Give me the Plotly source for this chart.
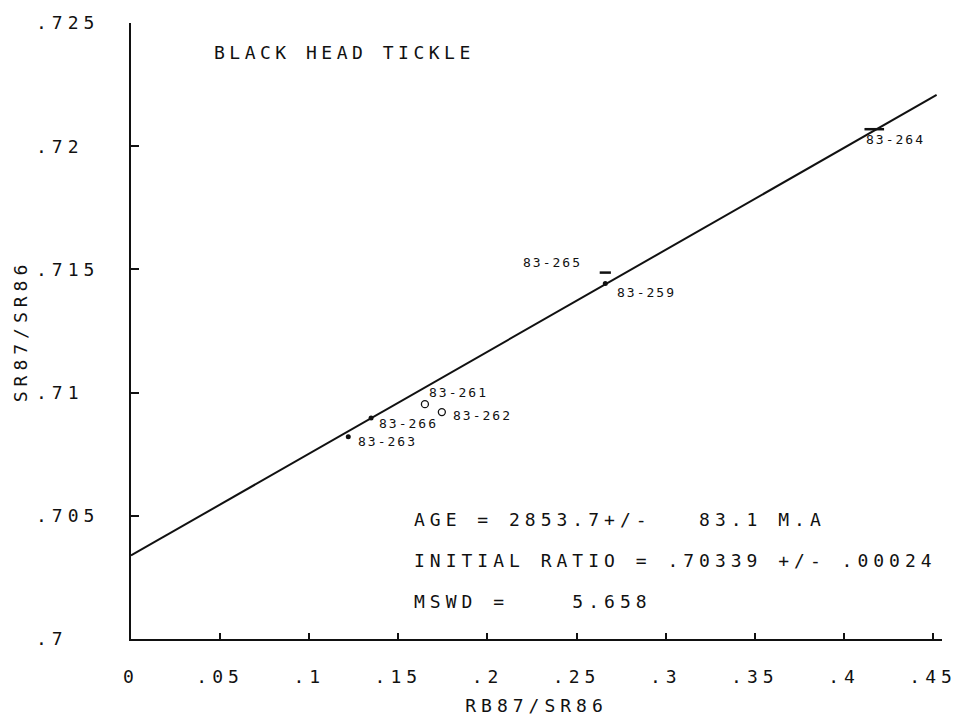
import math
import plotly.graph_objects as go

# ---- data ----
sample_ids = ["83-263", "83-266", "83-261", "83-262", "83-265", "83-259", "83-264"]
rb_sr = [0.1219, 0.1347, 0.1649, 0.1744, 0.2661, 0.2661, 0.4170]
sr_sr = [0.70821, 0.70897, 0.70953, 0.70921, 0.71487, 0.71443, 0.72069]
marker_kind = ["dot", "dot", "open", "open", "dash", "dot", "longdash"]

label_x = [0.1263, 0.1381, 0.1660, 0.1794, 0.2186, 0.2717, 0.4114]
label_y = [0.70801, 0.70873, 0.71001, 0.70909, 0.71527, 0.71407, 0.72026]

age_ma = 2853.7
decay_const = 1.42e-11
initial_ratio = 0.70339
line_x = [0.0, 0.452]

x_ticks = [0, 0.05, 0.1, 0.15, 0.2, 0.25, 0.3, 0.35, 0.4, 0.45]
x_tick_labels = ["0", ".05", ".1", ".15", ".2", ".25", ".3", ".35", ".4", ".45"]
y_ticks = [0.7, 0.705, 0.71, 0.715, 0.72, 0.725]
y_tick_labels = [".7", ".705", ".71", ".715", ".72", ".725"]

title_text = "BLACK HEAD TICKLE"
stat_lines = [
    "AGE = 2853.7+/-   83.1 M.A",
    "INITIAL RATIO = .70339 +/- .00024",
    "MSWD =    5.658",
]
x_title = "RB87/SR86"
y_title = "SR87/SR86"

# ---- derived ----
slope = math.exp(decay_const * age_ma * 1e6) - 1
line_y = [initial_ratio + slope * x for x in line_x]

FONT = "DejaVu Sans Mono"
INK = "#111111"


def spaced(s, ls):
    s = s.replace(" ", "\u00a0")
    return f'<span style="letter-spacing:{ls}px">{s}</span>'


fig = go.Figure()

fig.add_trace(go.Scatter(x=line_x, y=line_y, mode="lines",
                         line=dict(color=INK, width=2), showlegend=False,
                         hoverinfo="skip"))

style_map = {
    "dot": dict(symbol="circle", size=5, color=INK, line=dict(width=0)),
    "open": dict(symbol="circle-open", size=7, color=INK, line=dict(width=1.3)),
    "dash": dict(symbol="line-ew", size=8, color=INK, line=dict(width=2.5, color=INK)),
    "longdash": dict(symbol="line-ew", size=14, color=INK, line=dict(width=2.5, color=INK)),
}
for kind in ["dot", "open", "dash", "longdash"]:
    xs = [x for x, k in zip(rb_sr, marker_kind) if k == kind]
    ys = [y for y, k in zip(sr_sr, marker_kind) if k == kind]
    fig.add_trace(go.Scatter(x=xs, y=ys, mode="markers", marker=style_map[kind],
                             showlegend=False))

annotations = []
for sid, lx, ly in zip(sample_ids, label_x, label_y):
    annotations.append(dict(x=lx, y=ly, xref="x", yref="y", text=spaced(sid, 2),
                            showarrow=False, xanchor="left", yanchor="middle",
                            font=dict(family=FONT, size=13, color=INK)))

annotations.append(dict(x=0.0453, y=0.7238, xref="x", yref="y", text=spaced(title_text, 4.5),
                        showarrow=False, xanchor="left", yanchor="middle",
                        font=dict(family=FONT, size=18, color=INK)))
stat_y = [0.70484, 0.70317, 0.70153]
for txt, sy in zip(stat_lines, stat_y):
    annotations.append(dict(x=0.1576, y=sy, xref="x", yref="y", text=spaced(txt, 5),
                            showarrow=False, xanchor="left", yanchor="middle",
                            font=dict(family=FONT, size=18, color=INK)))

fig.update_layout(
    width=969, height=725, autosize=False,
    margin=dict(l=131, r=24, t=14, b=84),
    paper_bgcolor="white", plot_bgcolor="white",
    font=dict(family=FONT, color=INK),
    annotations=annotations,
    xaxis=dict(range=[0, 0.455], showgrid=False, zeroline=False,
               showline=True, linecolor=INK, linewidth=2,
               ticks="inside", ticklen=6, tickwidth=1.5, tickcolor=INK,
               tickvals=x_ticks, ticktext=[spaced(t, 5) for t in x_tick_labels],
               tickfont=dict(family=FONT, size=18, color=INK),
               ticklabelstandoff=20,
               title=dict(text=spaced(x_title, 5), standoff=14,
                          font=dict(family=FONT, size=18, color=INK))),
    yaxis=dict(range=[0.7, 0.725], showgrid=False, zeroline=False,
               showline=True, linecolor=INK, linewidth=2,
               ticks="inside", ticklen=8, tickwidth=1.5, tickcolor=INK,
               tickvals=y_ticks,
               ticktext=[spaced(t.ljust(4), 5) for t in y_tick_labels],
               tickfont=dict(family=FONT, size=18, color=INK),
               ticklabelstandoff=26,
               title=dict(text=spaced(y_title, 5), standoff=4,
                          font=dict(family=FONT, size=18, color=INK))),
)

fig.write_html("out.html")
